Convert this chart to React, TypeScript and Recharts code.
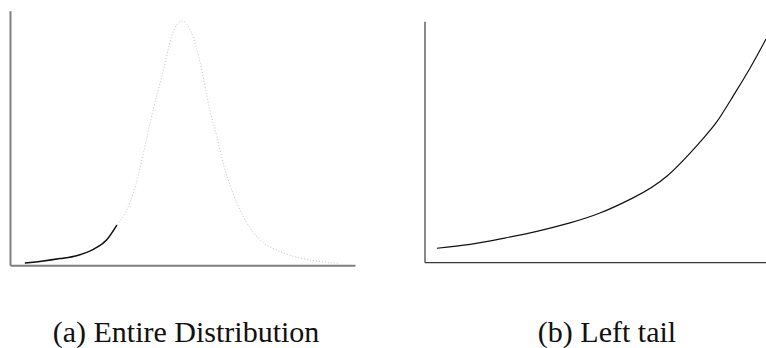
import { LineChart, Line, XAxis, YAxis } from 'recharts';

// (a) whole density (x in std units, y relative to the peak)
const densityX = [-2.75, -2.43, -2.14, -1.85, -1.56, -1.33, -1.15, -1.01, -0.82, -0.69, -0.52, -0.34, -0.2, -0.02, 0.15, 0.3, 0.46, 0.59, 0.7, 0.82, 1.05, 1.28, 1.67, 2.13, 2.44, 2.7];
const densityY = [0.011, 0.019, 0.029, 0.041, 0.067, 0.105, 0.166, 0.214, 0.33, 0.459, 0.636, 0.8, 0.936, 1.0, 0.95, 0.827, 0.643, 0.527, 0.418, 0.328, 0.2, 0.119, 0.06, 0.027, 0.016, 0.01];
const tailCutoff = -1.15;

// (b) zoom on the left tail
const tailX = [0.35, 1.32, 2.29, 3.28, 4.25, 5.13, 6.1, 7.1, 8.06, 8.56, 9.03, 9.53, 10];
const tailY = [0.06, 0.076, 0.101, 0.13, 0.165, 0.206, 0.269, 0.36, 0.5, 0.585, 0.69, 0.807, 0.928];

const captions = ['(a) Entire Distribution', '(b) Left tail'];

const densityData = densityX.map((x, i) => ({
  x,
  full: densityY[i],
  tail: x <= tailCutoff ? densityY[i] : null,
}));
const tailData = tailX.map((x, i) => ({ x, y: tailY[i] }));

const captionStyle: React.CSSProperties = {
  position: 'absolute',
  top: 315,
  fontFamily: '"Liberation Serif", serif',
  fontSize: 30,
  color: '#111',
  whiteSpace: 'nowrap',
  transform: 'translateX(-50%)',
};

export default function App() {
  return (
    <div style={{ position: 'absolute', left: 0, top: 0, width: 766, height: 348, background: '#fff', overflow: 'hidden' }}>
      <div style={{ position: 'absolute', left: 0, top: 0 }}>
        <LineChart width={360} height={270} data={densityData} margin={{ top: 11.2, right: 4.5, bottom: 3.3, left: 9.5 }}>
          <XAxis dataKey="x" type="number" domain={[-3, 3]} tick={false} tickLine={false} height={1} axisLine={{ stroke: '#808080', strokeWidth: 2 }} />
          <YAxis type="number" domain={[0, 1.04]} tick={false} tickLine={false} width={1} axisLine={{ stroke: '#808080', strokeWidth: 2 }} />
          <Line type="monotone" dataKey="full" stroke="#c4c4c4" strokeWidth={1} strokeDasharray="1 2" dot={false} isAnimationActive={false} />
          <Line type="monotone" dataKey="tail" stroke="#111" strokeWidth={1.5} dot={false} connectNulls={false} isAnimationActive={false} />
        </LineChart>
      </div>
      <div style={{ position: 'absolute', left: 400, top: 0 }}>
        <LineChart width={366} height={270} data={tailData} margin={{ top: 21.7, right: 0, bottom: 6.3, left: 24 }}>
          <XAxis dataKey="x" type="number" domain={[0, 10]} tick={false} tickLine={false} height={1} axisLine={{ stroke: '#3a3a3a', strokeWidth: 1.2 }} />
          <YAxis type="number" domain={[0, 1]} tick={false} tickLine={false} width={1} axisLine={{ stroke: '#3a3a3a', strokeWidth: 1.2 }} />
          <Line type="natural" dataKey="y" stroke="#111" strokeWidth={1.2} dot={false} isAnimationActive={false} />
        </LineChart>
      </div>
      <div style={{ ...captionStyle, left: 186 }}>{captions[0]}</div>
      <div style={{ ...captionStyle, left: 607 }}>{captions[1]}</div>
    </div>
  );
}
